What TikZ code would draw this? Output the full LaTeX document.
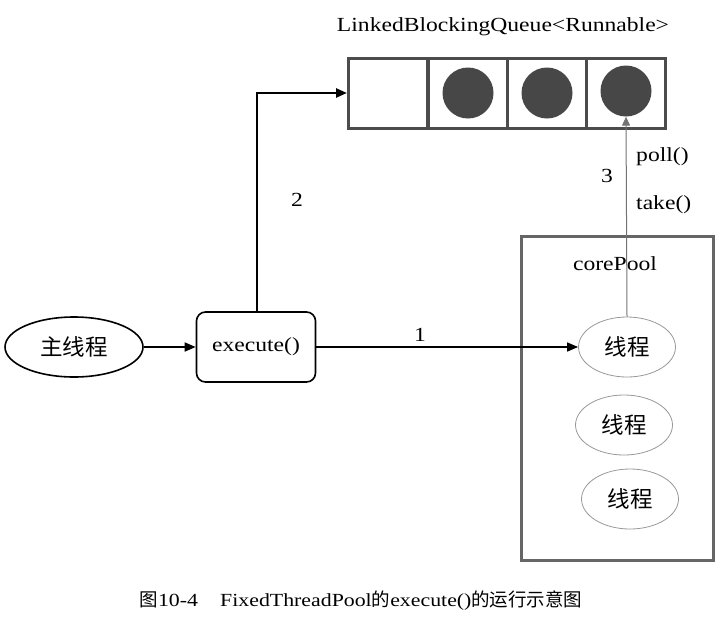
\documentclass[tikz,border=0pt]{standalone}
\usepackage{fontspec}
\setmainfont{Liberation Serif}[FakeStretch=1.18]
\newfontfamily\cjk{Noto Sans CJK SC}
\usetikzlibrary{arrows.meta,shapes.geometric}
\begin{document}
\begin{tikzpicture}[x=1pt,y=-1pt,
  txt/.style={font=\fontsize{20}{22}\selectfont, inner sep=0pt},
  qcell/.style={draw=black!70, line width=3pt, minimum width=79pt, minimum height=70pt, inner sep=0pt},
  token/.style={circle, fill=black!72, minimum size=51pt, inner sep=0pt},
  thread/.style={ellipse, draw=black!40, line width=0.8pt, minimum width=97pt, minimum height=60pt, inner sep=0pt, font=\cjk\fontsize{22.5}{24}\selectfont},
  main/.style={ellipse, draw=black, line width=1.6pt, minimum width=138pt, minimum height=60pt, inner sep=0pt, font=\cjk\fontsize{22.5}{24}\selectfont},
  exebox/.style={draw=black, line width=1.6pt, rounded corners=9pt, minimum width=119pt, minimum height=70pt, inner sep=0pt, font=\fontsize{20}{22}\selectfont},
  arr/.style={-{Triangle[length=11pt,width=9pt]}},
]
\useasboundingbox (0,0) rectangle (723,622);
\node[txt] (qtitle) at (503,27) {LinkedBlockingQueue<Runnable>};
\node[qcell] (c1) at (388,93) {};
\node[qcell] (c2) at (468,93) {};
\node[qcell] (c3) at (547,93) {};
\node[qcell] (c4) at (626,93) {};
\node[token] (t2) at (468,93) {};
\node[token] (t3) at (547,93) {};
\node[token] (t4) at (626,91) {};
\node[main] (mt) at (74,347) {主线程};
\node[exebox] (exe) at (256,347) {execute()};
\draw[draw=black!60, line width=3pt] (521,236) rectangle (713,560);
\node[txt] (cp) at (615,264) {corePool};
\node[thread] (th1) at (627,347) {线程};
\node[thread] (th2) at (624,425) {线程};
\node[thread] (th3) at (630,499) {线程};
\coordinate (bend) at (257,93);
\draw[arr, line width=2.4pt] (exe.north -| bend) -- (bend) -- (c1.west);
\node[txt] (l2) at (297,200) {2};
\draw[arr, line width=1.6pt] (mt.east) -- (exe.west);
\draw[arr, line width=1.6pt] (exe.east) -- (th1.west);
\node[txt] (l1) at (420,335) {1};
\draw[-{Triangle[length=9pt,width=8pt]}, draw=black!55, line width=1pt] (th1.north) -- (t4.south);
\node[txt, anchor=west] (poll) at (636,157) {poll()};
\node[txt, anchor=west] (take) at (636,205) {take()};
\node[txt] (l3) at (607,176) {3};
\node[font=\fontsize{18.5}{20}\selectfont, inner sep=0pt] (cap) at (361,601) {{\cjk 图}10-4\hspace{1.2em}FixedThreadPool{\cjk 的}execute(){\cjk 的运行示意图}};
\end{tikzpicture}
\end{document}
